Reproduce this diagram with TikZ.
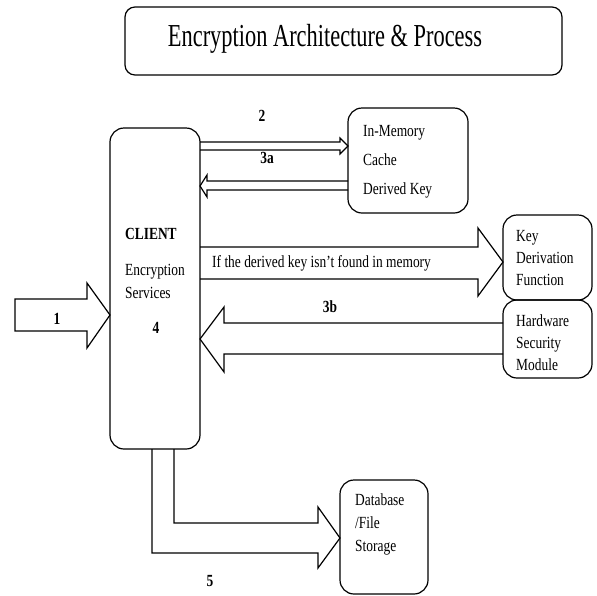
\documentclass[tikz,border=0pt]{standalone}
\usepackage{fontspec}
\setmainfont{Liberation Serif}[FakeStretch=0.79]
\newfontfamily\titlefont{Liberation Serif}[FakeStretch=0.7]
\begin{document}
\begin{tikzpicture}[x=1pt,y=-1pt,
  box/.style={draw, line width=1.2pt, rounded corners=14pt, inner sep=0pt, outer sep=0pt},
  txt/.style={anchor=west, inner sep=0pt, text height=11pt, text depth=4pt, font=\fontsize{17}{20}\selectfont},
  lbl/.style={inner sep=0pt, text height=11pt, text depth=0pt, font=\fontsize{17}{20}\selectfont\bfseries},
  blk/.style={draw, line width=1.2pt, line join=miter}]
\useasboundingbox (0,0) rectangle (597,595);
% title
\node[box, rounded corners=10pt, minimum width=437pt, minimum height=68pt] (title) at (343.5,41) {};
\node[inner sep=0pt, font=\titlefont\fontsize{32}{36}\selectfont] (titletext) at (325,39) {Encryption Architecture \& Process};
% boxes
\node[box, minimum width=90pt, minimum height=321pt] (client) at (155,288.5) {};
\node[box, minimum width=120pt, minimum height=105pt] (cache) at (408,160.5) {};
\node[box, minimum width=89pt, minimum height=85pt] (kdf) at (547.5,257.5) {};
\node[box, minimum width=89pt, minimum height=78pt] (hsm) at (547.5,339) {};
\node[box, minimum width=88pt, minimum height=114pt] (db) at (384,537) {};
% box texts
\node[txt] (t1) at (363,133) {In-Memory};
\node[txt] (t2) at (363,162) {Cache};
\node[txt] (t3) at (363,191) {Derived Key};
\node[txt] (t4) at (516,238) {Key};
\node[txt] (t5) at (516,260) {Derivation};
\node[txt] (t6) at (516,282) {Function};
\node[txt] (t7) at (516,323) {Hardware};
\node[txt] (t8) at (516,345) {Security};
\node[txt] (t9) at (516,367) {Module};
\node[txt, font=\fontsize{17}{20}\selectfont\bfseries] (t10) at (125,236) {CLIENT};
\node[txt] (t11) at (125,272) {Encryption};
\node[txt] (t12) at (125,295) {Services};
\node[txt] (t13) at (355,502) {Database};
\node[txt] (t14) at (355,525) {/File};
\node[txt] (t15) at (355,548) {Storage};
\node[txt] (t16) at (212,264) {If the derived key isn't found in memory};
% labels
\node[lbl] (l2) at (262,116) {2};
\node[lbl] (l3a) at (267,158) {3a};
\node[lbl] (l1) at (57,319) {1};
\node[lbl] (l4) at (156,328) {4};
\node[lbl] (l3b) at (330,307) {3b};
\node[lbl] (l5) at (210,581) {5};
% block arrows
\draw[blk] (client.east |- 0,142) -- (340,142) -- (340,138) -- (cache.west |- 0,146) -- (340,154) -- (340,150) -- (client.east |- 0,150);
\draw[blk] (cache.west |- 0,181) -- (207,181) -- (207,175) -- (client.east |- 0,186) -- (207,197) -- (207,190) -- (cache.west |- 0,190);
\draw[blk] (client.east |- 0,247) -- (478,247) -- (478,228) -- (kdf.west |- 0,262) -- (478,296) -- (478,279) -- (client.east |- 0,279);
\draw[blk] (hsm.west |- 0,323) -- (224,323) -- (224,307) -- (client.east |- 0,339) -- (224,372) -- (224,354) -- (hsm.west |- 0,354);
\draw[blk] (15,299) -- (87,299) -- (87,283) -- (client.west |- 0,315) -- (87,348) -- (87,331) -- (15,331) -- cycle;
\draw[blk] (client.south -| 152,0) -- (152,553) -- (318,553) -- (318,568) -- (db.west |- 0,538) -- (318,507) -- (318,523) -- (174,523) -- (client.south -| 174,0);
\end{tikzpicture}
\end{document}
